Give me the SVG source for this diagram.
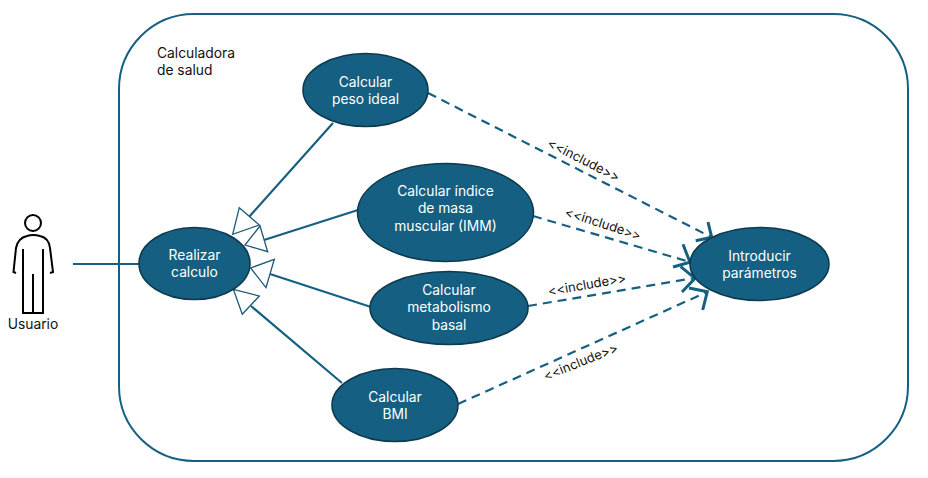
<svg xmlns="http://www.w3.org/2000/svg" width="928" height="478" viewBox="0 0 928 478">
<style>
text{font-family:Inter,"Noto Sans","Liberation Sans",sans-serif;font-size:13.800px;text-anchor:middle}
text.i{font-size:13px}
.n ellipse{fill:#156082;stroke:#0e3a4f;stroke-width:1.600}
.n text{fill:#fff}
.k{fill:#111}
.c{fill:none;stroke:#156082;stroke-width:2.2}
.d{stroke-dasharray:9 6}
.t{fill:#fff;stroke:#1d5a75;stroke-width:1.3}
.a{fill:none;stroke:#156082;stroke-width:3}
.f{fill:none;stroke:#156082;stroke-width:2}
.u{fill:none;stroke:#000;stroke-width:2}
</style>
<rect id="frame" class="f" x="119" y="14" width="789" height="447" rx="75"/>
<text class="k" x="157" y="58" style="text-anchor:start">Calculadora</text>
<text class="k" x="157" y="75" style="text-anchor:start">de salud</text>
<g id="connectors">
<path class="c" d="M73 264H139"/>
<path class="c" d="M249 217L333 123M264 240L358 210M270 274L371 307M251 306L342 383"/>
<path class="t" d="M239.3 207.7L259.3 225L232.7 234.3Z"/>
<path class="t" d="M260 226L267.7 251.7L245 245Z"/>
<path class="t" d="M274.3 259.3L266 287.7L250.7 268Z"/>
<path class="t" d="M233.3 289.3L259.3 296L242.3 314.3Z"/>
<path class="c d" d="M428 93L711 237M533 216L690 262M528 306L695 278M458 404L707 292"/>
<path class="a" d="M708 222L711.7 237.3L695.7 240.7M683 244.3L690 262.3L673 267M680.7 266.7L695 278.3L682 292M689 288L707.3 291.7L702.7 310"/>
<text class="k i" transform="translate(581.700 164) rotate(27)">&lt;&lt;include&gt;&gt;</text>
<text class="k i" transform="translate(601.700 228) rotate(18)">&lt;&lt;include&gt;&gt;</text>
<text class="k i" transform="translate(587.700 289) rotate(-10)">&lt;&lt;include&gt;&gt;</text>
<text class="k i" transform="translate(582.300 366) rotate(-22)">&lt;&lt;include&gt;&gt;</text>
</g>
<g id="actor">
<circle class="u" cx="33" cy="223" r="8"/>
<path class="u" d="M16 273L13.500 272L16 248Q18 238 27 236Q33 234 40 236Q49 238 50 248L53 272L50 273"/>
<path class="u" d="M23 249V313H43V249M33 274V313"/>
<text class="k" x="33" y="329">Usuario</text>
</g>
<g id="realizar" class="n"><ellipse cx="194.500" cy="263.500" rx="55.500" ry="36"/><text x="194.500" y="260">Realizar</text><text x="194.500" y="277">calculo</text></g>
<g id="peso" class="n"><ellipse cx="365.500" cy="90" rx="62.500" ry="36.500"/><text x="365.500" y="87">Calcular</text><text x="365.500" y="104">peso ideal</text></g>
<g id="imm" class="n"><ellipse cx="445.500" cy="212.500" rx="88" ry="49"/><text x="445.500" y="196">Calcular índice</text><text x="445.500" y="213">de masa</text><text x="445.500" y="231">muscular (IMM)</text></g>
<g id="metabolismo" class="n"><ellipse cx="449" cy="308" rx="79" ry="36.500"/><text x="449" y="295">Calcular</text><text x="449" y="312">metabolismo</text><text x="449" y="330">basal</text></g>
<g id="bmi" class="n"><ellipse cx="395" cy="405" rx="63" ry="36.500"/><text x="395" y="402">Calcular</text><text x="395" y="419">BMI</text></g>
<g id="introducir" class="n"><ellipse cx="759.500" cy="264" rx="69.500" ry="36.500"/><text x="759.500" y="261">Introducir</text><text x="759.500" y="278">parámetros</text></g>
</svg>
